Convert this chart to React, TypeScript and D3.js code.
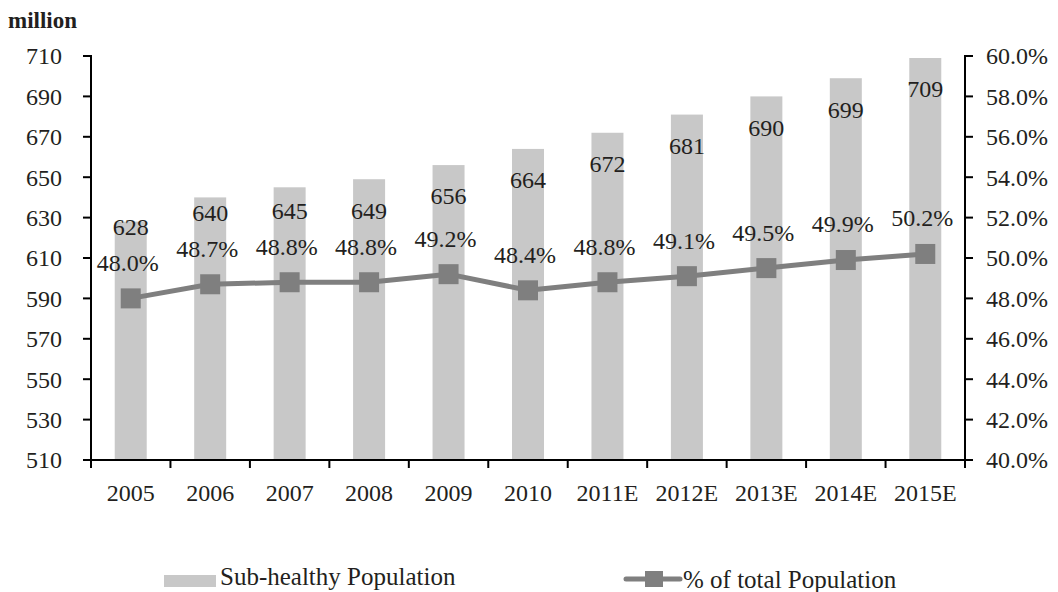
import React from "react";
import * as d3 from "d3";

const years = ["2005", "2006", "2007", "2008", "2009", "2010", "2011E", "2012E", "2013E", "2014E", "2015E"];
const population = [628, 640, 645, 649, 656, 664, 672, 681, 690, 699, 709];
const share = [48.0, 48.7, 48.8, 48.8, 49.2, 48.4, 48.8, 49.1, 49.5, 49.9, 50.2];
const leftTicks = [510, 530, 550, 570, 590, 610, 630, 650, 670, 690, 710];
const rightTicks = [40, 42, 44, 46, 48, 50, 52, 54, 56, 58, 60];

const W = 1058;
const H = 592;
const M = { left: 91, right: 965, top: 56, bottom: 460 };
const FONT = "'Liberation Serif', 'Times New Roman', serif";
const TEXT = "#231f20";
const BAR = "#c8c8c8";
const LINE = "#7f7f7f";
const FS = 24;

export default function App() {
  const x = d3.scaleBand<string>().domain(years).range([M.left, M.right]).paddingInner(0).paddingOuter(0);
  const yL = d3.scaleLinear().domain([510, 710]).range([M.bottom, M.top]);
  const yR = d3.scaleLinear().domain([40, 60]).range([M.bottom, M.top]);
  const barW = 32;
  const cx = (d: string) => (x(d) as number) + x.bandwidth() / 2;

  const line = d3
    .line<number>()
    .x((_, i) => cx(years[i]))
    .y((v) => yR(v));

  const pctLabelY = (i: number) => yR(share[i]) - 36;
  // value labels sit inside the bar top, lifted clear of the percent labels when they would collide
  const barLabelY = (i: number) => Math.min(yL(population[i]) + 31, pctLabelY(i) - 36);

  return (
    <svg width={W} height={H} style={{ position: "absolute", left: 0, top: 0 }} fontFamily={FONT}>
      <rect width={W} height={H} fill="#fff" />
      <text x={8} y={28} fontSize={23} fontWeight="bold" fill={TEXT}>
        million
      </text>

      {years.map((d, i) => (
        <rect key={d} x={cx(d) - barW / 2} y={yL(population[i])} width={barW} height={yL(510) - yL(population[i])} fill={BAR} />
      ))}

      {/* left axis */}
      <line x1={M.left} x2={M.left} y1={M.top - 1} y2={M.bottom + 1} stroke="#000" strokeWidth={2} />
      {leftTicks.map((t) => (
        <g key={t}>
          <line x1={M.left - 8} x2={M.left} y1={yL(t)} y2={yL(t)} stroke="#000" strokeWidth={2} />
          <text x={62} y={yL(t)} dy="0.35em" textAnchor="end" fontSize={FS} fill={TEXT}>
            {t}
          </text>
        </g>
      ))}

      {/* right axis */}
      <line x1={M.right} x2={M.right} y1={M.top - 1} y2={M.bottom + 1} stroke="#000" strokeWidth={2} />
      {rightTicks.map((t) => (
        <g key={t}>
          <line x1={M.right} x2={M.right + 8} y1={yR(t)} y2={yR(t)} stroke="#000" strokeWidth={2} />
          <text x={986} y={yR(t)} dy="0.35em" textAnchor="start" fontSize={FS} fill={TEXT}>
            {t.toFixed(1)}%
          </text>
        </g>
      ))}

      {/* x axis */}
      <line x1={M.left} x2={M.right} y1={M.bottom} y2={M.bottom} stroke="#000" strokeWidth={2} />
      {[...years.map((d) => x(d) as number), M.right].map((px, i) => (
        <line key={i} x1={px} x2={px} y1={M.bottom} y2={M.bottom + 8} stroke="#000" strokeWidth={2} />
      ))}
      {years.map((d) => (
        <text key={d} x={cx(d)} y={493} dy="0.35em" textAnchor="middle" fontSize={FS} fill={TEXT}>
          {d}
        </text>
      ))}

      {/* share line */}
      <path d={line(share) as string} fill="none" stroke={LINE} strokeWidth={5} strokeLinejoin="round" />
      {share.map((v, i) => (
        <rect key={i} x={cx(years[i]) - 10} y={yR(v) - 10} width={20} height={20} fill={LINE} />
      ))}

      {/* labels */}
      {population.map((v, i) => (
        <text key={i} x={cx(years[i])} y={barLabelY(i)} dy="0.35em" textAnchor="middle" fontSize={FS} fill={TEXT}>
          {v}
        </text>
      ))}
      {share.map((v, i) => (
        <text key={i} x={cx(years[i]) - 3} y={pctLabelY(i)} dy="0.35em" textAnchor="middle" fontSize={FS} fill={TEXT}>
          {v.toFixed(1)}%
        </text>
      ))}

      {/* legend */}
      <rect x={164} y={575} width={52} height={12} fill={BAR} />
      <text x={220} y={576} dy="0.35em" fontSize={25} fill={TEXT}>
        Sub-healthy Population
      </text>
      <line x1={626} x2={680} y1={579} y2={579} stroke={LINE} strokeWidth={5} strokeLinecap="round" />
      <rect x={645} y={571} width={18} height={16} fill={LINE} />
      <text x={683} y={579} dy="0.35em" fontSize={25} fill={TEXT}>
        % of total Population
      </text>
    </svg>
  );
}
